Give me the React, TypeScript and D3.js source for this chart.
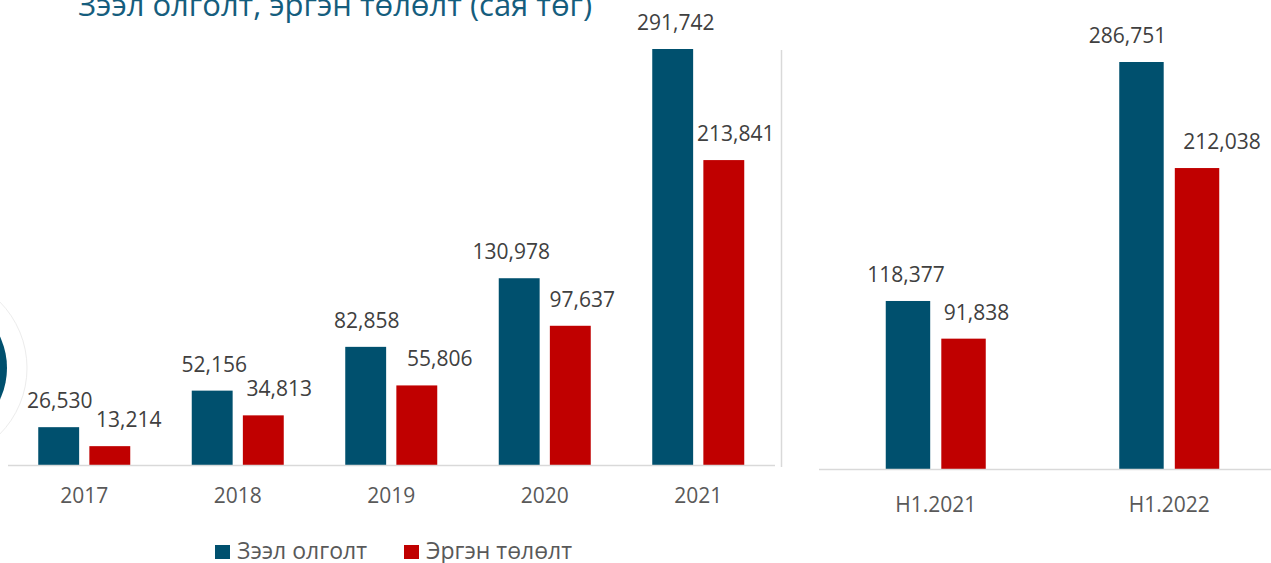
import React from "react";
import * as d3 from "d3";

const yearCats = ["2017", "2018", "2019", "2020", "2021"];
const yearLoans = [26530, 52156, 82858, 130978, 291742];
const yearRepay = [13214, 34813, 55806, 97637, 213841];

const halfCats = ["H1.2021", "H1.2022"];
const halfLoans = [118377, 286751];
const halfRepay = [91838, 212038];

const seriesNames = ["Зээл олголт", "Эргэн төлөлт"];
const title = "Зээл олголт, эргэн төлөлт (сая төг)";

const BLUE = "#00506E";
const RED = "#C00000";
const FONT = "'Open Sans', 'Noto Sans', sans-serif";
const fmt = d3.format(",");

type PanelProps = {
  cats: string[];
  a: number[];
  b: number[];
  x0: [number, number];
  baseY: number;
  topY: number;
  groupW: number;
  catY: number;
  axisX: [number, number];
  labelDx: [number, number][];
};

function Panel({ cats, a, b, x0, baseY, topY, groupW, catY, axisX, labelDx }: PanelProps) {
  const xb = d3.scaleBand().domain(cats).range(x0).padding(0);
  const xs = d3
    .scaleBand()
    .domain(seriesNames)
    .range([-groupW / 2, groupW / 2])
    .paddingInner(0.2);
  const maxV = d3.max(a) as number;
  const y = d3.scaleLinear().domain([0, maxV]).range([baseY, topY]);
  const colors = [BLUE, RED];
  return (
    <g>
      {cats.map((c, i) => {
        const cx = (xb(c) as number) + xb.bandwidth() / 2;
        const vals = [a[i], b[i]];
        return (
          <g key={c}>
            {vals.map((v, j) => {
              const bx = cx + (xs(seriesNames[j]) as number);
              return (
                <g key={j}>
                  <rect
                    x={bx}
                    y={y(v)}
                    width={xs.bandwidth()}
                    height={baseY - y(v)}
                    fill={colors[j]}
                  />
                  <text
                    x={bx + xs.bandwidth() / 2 + labelDx[i][j]}
                    y={y(v) - 19}
                    textAnchor="middle"
                    fontSize={21}
                    fill="#404040"
                    fontFamily={FONT}
                  >
                    {fmt(v)}
                  </text>
                </g>
              );
            })}
            <text
              x={cx}
              y={catY}
              textAnchor="middle"
              fontSize={21}
              fill="#595959"
              fontFamily={FONT}
            >
              {c}
            </text>
          </g>
        );
      })}
      <line
        x1={axisX[0]}
        x2={axisX[1]}
        y1={baseY + 0.5}
        y2={baseY + 0.5}
        stroke="#d9d9d9"
        strokeWidth={1.5}
      />
    </g>
  );
}

export default function App() {
  return (
    <svg
      width={1271}
      height={563}
      style={{ position: "absolute", left: 0, top: 0, background: "#fff" }}
    >
      <rect width={1271} height={563} fill="#fff" />
      {/* decorative circle */}
      <circle cx={-67} cy={368} r={94} fill="none" stroke="#ececec" strokeWidth={1} />
      <circle cx={-67} cy={368} r={74} fill={BLUE} />
      <text x={78} y={16} fontSize={31} fill="#155D7D" fontFamily={FONT}>
        {title}
      </text>
      <Panel
        cats={yearCats}
        a={yearLoans}
        b={yearRepay}
        x0={[7.5, 775]}
        baseY={465}
        topY={49}
        groupW={92}
        catY={503}
        axisX={[8, 775]}
        labelDx={[[1, 19], [2, 16], [1, 23], [-8, 12], [3, 12]]}
      />
      <line x1={781.5} x2={781.5} y1={50} y2={467} stroke="#d9d9d9" strokeWidth={1.5} />
      <Panel
        cats={halfCats}
        a={halfLoans}
        b={halfRepay}
        x0={[819, 1286]}
        baseY={469}
        topY={62}
        groupW={100}
        catY={512}
        axisX={[819, 1271]}
        labelDx={[[-2, 13], [-14, 25]]}
      />
      {/* legend */}
      {seriesNames.map((s, i) => {
        const lx = [215, 404][i];
        return (
          <g key={s}>
            <rect x={lx} y={545} width={15} height={14} fill={[BLUE, RED][i]} />
            <text x={lx + 22} y={559} fontSize={23} fill="#595959" fontFamily={FONT}>
              {s}
            </text>
          </g>
        );
      })}
    </svg>
  );
}
